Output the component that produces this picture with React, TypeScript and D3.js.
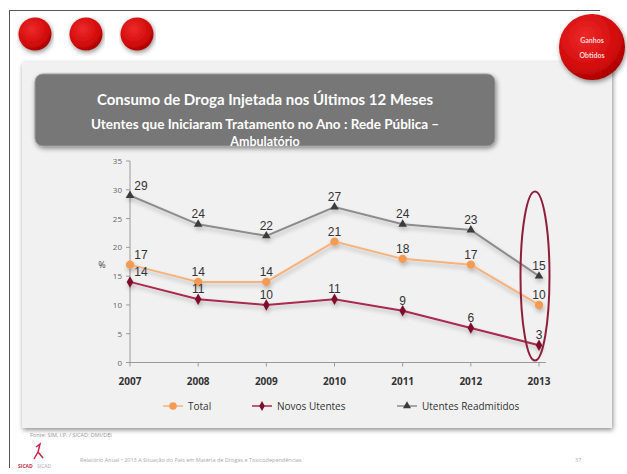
import React from "react";
import * as d3 from "d3";

const years = ["2007", "2008", "2009", "2010", "2011", "2012", "2013"];
const total = [17, 14, 14, 21, 18, 17, 10];
const novos = [14, 11, 10, 11, 9, 6, 3];
const readmitidos = [29, 24, 22, 27, 24, 23, 15];
const yTicks = [0, 5, 10, 15, 20, 25, 30, 35];
const seriesNames = ["Total", "Novos Utentes", "Utentes Readmitidos"];

const W = 627;
const H = 474;

export default function App() {
  const x = d3.scalePoint<string>().domain(years).range([130, 539]).padding(0);
  const y = d3.scaleLinear().domain([0, 35]).range([362.5, 161]);

  const line = d3
    .line<number>()
    .x((_, i) => x(years[i]) as number)
    .y((d) => y(d));

  const series = [
    { name: seriesNames[0], data: total, line: "#f7b27c", marker: "#f59a52", shape: "circle" },
    { name: seriesNames[1], data: novos, line: "#a8294f", marker: "#7e0f2c", shape: "diamond" },
    { name: seriesNames[2], data: readmitidos, line: "#8c8c8c", marker: "#3b3b3b", shape: "triangle" },
  ];

  const sym = (shape: string, size: number) =>
    d3
      .symbol()
      .type(shape === "circle" ? d3.symbolCircle : shape === "diamond" ? d3.symbolDiamond : d3.symbolTriangle)
      .size(size)() as string;

  const legendX = [163, 252, 397];

  return (
    <svg width={W} height={H} style={{ position: "absolute", left: 0, top: 0, background: "#fff" }}>
      <defs>
        <filter id="sh" x="-10%" y="-10%" width="120%" height="130%">
          <feGaussianBlur in="SourceAlpha" stdDeviation="2" />
          <feOffset dx="1" dy="3" result="b" />
          <feComponentTransfer>
            <feFuncA type="linear" slope="0.25" />
          </feComponentTransfer>
          <feMerge>
            <feMergeNode />
            <feMergeNode in="SourceGraphic" />
          </feMerge>
        </filter>
        <filter id="bs" x="-5%" y="-5%" width="110%" height="120%">
          <feGaussianBlur in="SourceAlpha" stdDeviation="2.5" />
          <feOffset dx="1" dy="2" />
          <feComponentTransfer>
            <feFuncA type="linear" slope="0.45" />
          </feComponentTransfer>
          <feMerge>
            <feMergeNode />
            <feMergeNode in="SourceGraphic" />
          </feMerge>
        </filter>
        <radialGradient id="rg" cx="40%" cy="35%" r="70%">
          <stop offset="0%" stopColor="#ee2a2a" />
          <stop offset="70%" stopColor="#d10a0a" />
          <stop offset="100%" stopColor="#a00000" />
        </radialGradient>
      </defs>

      {/* slide frame */}
      <line x1={9.5} y1={10} x2={9.5} y2={468} stroke="#555" strokeWidth={1} />
      <line x1={9} y1={10.5} x2={600} y2={10.5} stroke="#555" strokeWidth={1} />

      {/* red dots */}
      {[35, 86, 137].map((cx) => (
        <circle key={cx} cx={cx} cy={34} r={16.5} fill="url(#rg)" filter="url(#bs)" />
      ))}

      {/* gray panel */}
      <rect x={22} y={62} width={590} height={366} fill="#f1f1f1" filter="url(#bs)" />

      {/* big red circle */}
      <circle cx={592} cy={47} r={33} fill="url(#rg)" filter="url(#bs)" />
      <text x={592} y={43} textAnchor="middle" fontFamily="Lato, sans-serif" fontWeight={700} fontSize={7} fill="#f8d8d8">
        Ganhos
      </text>
      <text x={592} y={58} textAnchor="middle" fontFamily="Lato, sans-serif" fontWeight={700} fontSize={7} fill="#f8d8d8">
        Obtidos
      </text>

      {/* title box */}
      <rect x={35} y={74} width={460} height={72} rx={8} fill="#777" stroke="#999" strokeWidth={1} filter="url(#bs)" />
      <text x={265} y={105} textAnchor="middle" fontFamily="Lato, sans-serif" fontWeight={700} fontSize={15} fill="#fff">
        Consumo de Droga Injetada nos Últimos 12 Meses
      </text>
      <text x={265} y={129} textAnchor="middle" fontFamily="Lato, sans-serif" fontWeight={700} fontSize={13.5} fill="#fff">
        Utentes  que Iniciaram Tratamento no Ano : Rede Pública –
      </text>
      <text x={265} y={146} textAnchor="middle" fontFamily="Lato, sans-serif" fontWeight={700} fontSize={12.5} fill="#fff">
        Ambulatório
      </text>

      {/* axes */}
      <line x1={130} y1={y(35)} x2={130} y2={y(0)} stroke="#9a9a9a" strokeWidth={1} />
      <line x1={130} y1={y(0)} x2={546} y2={y(0)} stroke="#9a9a9a" strokeWidth={1} />
      {yTicks.map((t) => (
        <g key={t}>
          <line x1={126} x2={130} y1={y(t)} y2={y(t)} stroke="#9a9a9a" />
          <text x={122} y={y(t) + 3} textAnchor="end" fontFamily="Open Sans, sans-serif" fontSize={8} fill="#666">
            {t}
          </text>
        </g>
      ))}
      {years.map((yr) => (
        <g key={yr}>
          <line x1={x(yr)} x2={x(yr)} y1={y(0)} y2={y(0) + 4} stroke="#9a9a9a" />
          <text x={x(yr)} y={385} textAnchor="middle" fontFamily="Open Sans, sans-serif" fontWeight={700} fontSize={10} fill="#333">
            {yr}
          </text>
        </g>
      ))}
      <text x={102} y={268} textAnchor="middle" fontFamily="Open Sans, sans-serif" fontSize={9} fill="#444">
        %
      </text>

      {/* series */}
      {series.map((s) => (
        <g key={s.name} filter="url(#sh)">
          <path d={line(s.data) as string} fill="none" stroke={s.line} strokeWidth={2} />
          {s.data.map((v, i) => (
            <path
              key={i}
              d={sym(s.shape, s.shape === "circle" ? 55 : s.shape === "diamond" ? 38 : 32)}
              transform={`translate(${x(years[i])},${y(v)})`}
              fill={s.marker}
            />
          ))}
        </g>
      ))}
      {series.map((s) =>
        s.data.map((v, i) => (
          <text
            key={s.name + i}
            x={(x(years[i]) as number) + (i === 0 ? 11 : 0)}
            y={y(v) - 6}
            textAnchor="middle"
            fontFamily="Liberation Sans, sans-serif"
            fontSize={12}
            fill="#333"
          >
            {v}
          </text>
        ))
      )}

      {/* highlight ellipse */}
      <ellipse cx={535} cy={276} rx={14.5} ry={84.5} fill="none" stroke="#8e1f3a" strokeWidth={2} />

      {/* legend */}
      {series.map((s, i) => (
        <g key={s.name} transform={`translate(${legendX[i]},406)`}>
          <line x1={0} x2={20} y1={0} y2={0} stroke={s.line} strokeWidth={1.5} />
          <path d={sym(s.shape, s.shape === "circle" ? 45 : 28)} transform="translate(10,0)" fill={s.marker} />
          <text x={25} y={3.5} fontFamily="Open Sans, sans-serif" fontSize={10} fill="#333">
            {s.name}
          </text>
        </g>
      ))}

      {/* source and footer */}
      <text x={30} y={437} fontFamily="Open Sans, sans-serif" fontSize={5.5} fill="#999">
        Fonte: SIM, I.P. / SICAD: DMI/DEI
      </text>
      <path d="M36,447 L40,444 L38,452 L43,458 M38,452 L34,459" stroke="#d0204a" strokeWidth={1.5} fill="none" />
      <text x={18} y={468} fontFamily="Open Sans, sans-serif" fontSize={5} fill="#c03050" fontWeight={700}>
        SICAD
      </text>
      <text x={37} y={468} fontFamily="Open Sans, sans-serif" fontSize={5} fill="#aaa">
        SICAD
      </text>
      <text x={80} y={462} fontFamily="Open Sans, sans-serif" fontSize={5.5} fill="#aaa">
        Relatório Anual  •  2013 A Situação do País em Matéria de Drogas e Toxicodependências
      </text>
      <text x={575} y={462} fontFamily="Open Sans, sans-serif" fontSize={5.5} fill="#aaa">
        37
      </text>
    </svg>
  );
}
